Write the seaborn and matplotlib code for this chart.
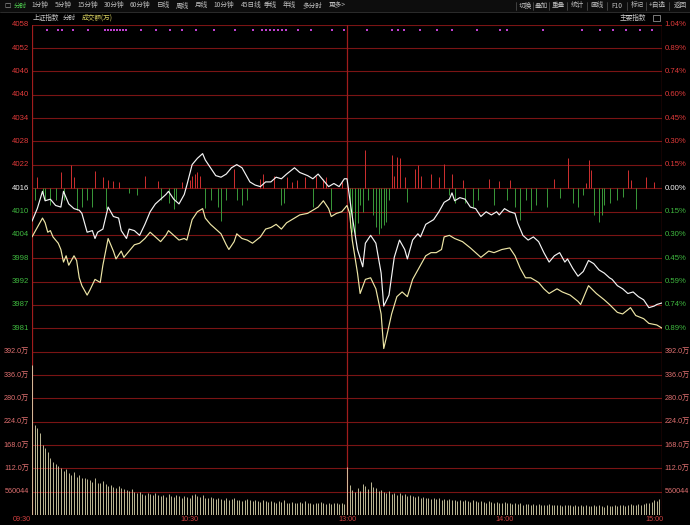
import numpy as np
import pandas as pd
import matplotlib
matplotlib.use("Agg")
import matplotlib.pyplot as plt
from matplotlib.patches import Rectangle
import seaborn as sns

sns.set_style("dark")
plt.rcParams['font.family'] = ['Liberation Sans', 'Noto Sans CJK SC', 'DejaVu Sans']

# ---------------- data ----------------
STEP = 0.1486  # percent per grid step

white_min = [0,2,4,5,7,9,11,12,14,16,18,19,21,23,24,25,27,29,31,33,34,36,37,39,41,43,45,47,49,51,52,54,56,58,59,61,63,65,66,68,70,72,74,76,78,80,83,85,87,89,91,93,95,97,100,102,105,107,109,111,113,115,117,119,120,
             122,124,126,127,129,131,133,134,136,138,140,142,143,145,147,148,150,153,155,157,159,160,161,163,165,167,169,171,173,175,177,178,180,182,184,185,187,189,191,193,195,197,199,201,203,204,206,208,210,212,214,216,218,220,221,223,225,227,229,231,233,235,237,238,240]
white_pct = [-0.21,-0.13,-0.02,-0.08,-0.07,-0.11,-0.12,-0.02,-0.10,-0.13,-0.14,-0.16,-0.28,-0.27,-0.32,-0.28,-0.26,-0.12,-0.18,-0.19,-0.27,-0.32,-0.26,-0.27,-0.30,-0.23,-0.15,-0.10,-0.07,-0.04,-0.02,-0.07,-0.10,-0.04,0.02,0.15,0.19,0.22,0.18,0.13,0.08,0.07,0.09,0.13,0.15,0.13,0.04,0.02,0.01,0.04,0.04,0.07,0.06,0.09,0.13,0.10,0.08,0.06,0.09,0.05,0.01,0.03,0.01,0.06,0.06,
             -0.18,-0.39,-0.50,-0.35,-0.30,-0.35,-0.54,-0.75,-0.68,-0.44,-0.33,-0.39,-0.45,-0.33,-0.29,-0.31,-0.23,-0.20,-0.15,-0.09,-0.07,-0.03,-0.08,-0.06,-0.07,-0.12,-0.13,-0.18,-0.15,-0.17,-0.15,-0.17,-0.13,-0.15,-0.16,-0.22,-0.30,-0.33,-0.31,-0.34,-0.41,-0.47,-0.43,-0.41,-0.47,-0.45,-0.51,-0.56,-0.53,-0.46,-0.48,-0.52,-0.54,-0.57,-0.58,-0.62,-0.64,-0.67,-0.66,-0.69,-0.71,-0.76,-0.75,-0.74,-0.73]

yellow_min = [0,2,4,5,6,7,8,10,11,12,13,14,16,17,18,19,21,22,24,26,27,29,30,31,32,34,35,37,39,41,43,45,47,49,51,52,54,56,58,59,61,63,65,66,68,70,72,74,75,77,78,80,82,84,87,89,91,93,95,97,100,102,105,107,109,111,113,114,116,118,120,
              121,122,124,125,127,129,131,133,134,135,137,139,141,143,145,148,150,152,154,156,157,159,161,164,167,169,171,174,176,179,182,184,186,188,190,193,195,197,200,202,205,208,209,212,215,218,220,223,225,228,230,233,235,238,240]
yellow_pct = [-0.31,-0.25,-0.19,-0.22,-0.28,-0.27,-0.31,-0.35,-0.39,-0.47,-0.43,-0.49,-0.43,-0.46,-0.57,-0.62,-0.68,-0.65,-0.58,-0.60,-0.49,-0.32,-0.36,-0.40,-0.45,-0.40,-0.44,-0.40,-0.36,-0.35,-0.32,-0.28,-0.31,-0.34,-0.30,-0.27,-0.30,-0.33,-0.32,-0.33,-0.20,-0.15,-0.13,-0.19,-0.23,-0.26,-0.29,-0.36,-0.39,-0.34,-0.29,-0.32,-0.33,-0.35,-0.31,-0.26,-0.25,-0.23,-0.26,-0.22,-0.19,-0.17,-0.16,-0.14,-0.12,-0.08,-0.13,-0.18,-0.16,-0.15,-0.11,
              -0.16,-0.33,-0.54,-0.67,-0.58,-0.57,-0.64,-0.80,-1.02,-0.95,-0.80,-0.69,-0.66,-0.69,-0.58,-0.49,-0.43,-0.41,-0.41,-0.39,-0.31,-0.30,-0.32,-0.34,-0.38,-0.41,-0.44,-0.40,-0.41,-0.39,-0.38,-0.43,-0.51,-0.57,-0.57,-0.60,-0.64,-0.67,-0.64,-0.66,-0.68,-0.72,-0.74,-0.62,-0.67,-0.71,-0.74,-0.79,-0.80,-0.76,-0.81,-0.83,-0.86,-0.87,-0.89]

red_min = [2,11,15,16,24,27,29,31,33,43,48,57,60,61,62,63,64,77,87,88,92,97,99,101,104,108,111,112,118,
           127,137,138,139,140,142,146,147,148,152,155,157,160,164,174,178,182,199,204,211,212,213,227,228,234,237]
red_pct = [0.07,0.10,0.15,0.07,0.11,0.07,0.05,0.045,0.04,0.08,0.045,0.04,0.05,0.08,0.09,0.10,0.08,0.125,0.06,0.09,0.08,0.07,0.04,0.05,0.07,0.08,0.06,0.07,0.04,
           0.24,0.21,0.08,0.20,0.19,0.07,0.125,0.145,0.08,0.09,0.07,0.155,0.09,0.05,0.06,0.045,0.05,0.06,0.19,0.03,0.18,0.115,0.115,0.05,0.07,0.04]

green_min = [1,4,5,7,9,12,17,19,21,23,28,37,40,49,52,54,55,66,68,71,72,74,78,80,82,95,96,107,114,
             121,122,123,124,125,126,128,130,131,132,133,134,135,136,143,159,161,165,168,170,176,181,184,186,188,190,192,196,201,206,208,210,214,216,217,218,220,223,225,230,240]
green_pct = [-0.076,-0.045,-0.076,-0.108,-0.076,-0.076,-0.14,-0.12,-0.076,-0.12,-0.13,-0.03,-0.045,-0.076,-0.095,-0.13,-0.076,-0.127,-0.076,-0.12,-0.21,-0.076,-0.076,-0.108,-0.076,-0.108,-0.095,-0.12,-0.14,
             -0.256,-0.277,-0.29,-0.22,-0.108,-0.15,-0.076,-0.17,-0.246,-0.29,-0.256,-0.235,-0.214,-0.076,-0.087,-0.045,-0.095,-0.097,-0.12,-0.076,-0.108,-0.076,-0.12,-0.20,-0.076,-0.14,-0.108,-0.12,-0.063,-0.097,-0.12,-0.045,-0.17,-0.214,-0.17,-0.108,-0.095,-0.076,-0.057,-0.13,-0.13]

volume = [359,215,208,196,168,160,151,136,127,122,
          118,112,105,110,100,96,104,92,95,88,90,
          86,84,80,88,78,76,82,74,70,72,68,66,70,64,62,
          60,58,62,55,52,56,50,48,54,50,47,52,49,45,48,44,50,46,43,47,45,42,46,44,41,
          48,50,45,43,47,42,40,44,41,38,42,39,37,40,36,38,41,35,37,34,36,39,35,33,36,34,32,35,33,31,
          34,32,30,33,31,35,30,29,32,30,28,31,29,33,30,28,27,30,29,31,28,26,29,27,30,28,26,29,27,
          115,
          72,60,55,66,58,75,70,62,80,68,64,57,60,55,52,58,50,54,48,52,47,50,45,48,46,43,45,42,44,40,
          42,39,41,38,40,37,39,36,38,35,37,34,36,33,35,34,32,35,33,31,34,32,30,33,31,29,32,30,28,31,
          30,28,27,29,26,28,25,27,26,24,27,25,26,24,25,23,26,24,25,23,24,22,25,23,24,22,23,21,24,22,23,21,22,24,21,23,22,20,23,21,
          22,24,21,23,25,22,24,26,23,25,27,24,26,30,28,32,35,33,38,45]

dot_x_px = [47,58,62,73,88,105,108,111,114,117,120,123,126,141,156,170,182,196,214,235,253,262,266,270,274,278,282,286,298,311,332,344,
            367,392,398,404,420,437,452,477,500,507,543,582,600,613,626,640,652]

left_labels = ["3981","3987","3992","3998","4004","4010","4016","4022","4028","4034","4040","4046","4052","4058"]
right_labels = ["0.89%","0.74%","0.59%","0.45%","0.30%","0.15%","0.00%","0.15%","0.30%","0.45%","0.60%","0.74%","0.89%","1.04%"]
vol_ticks = [56,112,168,224,280,336,392]
vol_labels = ["560044","112.0万","168.0万","224.0万","280.0万","336.0万","392.0万"]
time_labels = ["09:30","10:30","13:00","14:00","15:00"]
time_pos = [0,60,120,180,240]

menu_left = ["分时","1分钟","5分钟","15分钟","30分钟","60分钟","日线","周线","月线","10分钟","45日线","季线","年线","多分时","更多>"]
menu_right = ["切换","叠加","重叠","统计","画线","F10","标记","+自选","返回"]

# ---------------- figure ----------------
W, H = 690, 525
fig = plt.figure(figsize=(6.9, 5.25), dpi=100, facecolor='black')

def fx(px):
    return px / W
def fy(py):
    return 1 - py / H

GRID = '#7a1414'
BORDER = '#a01c1c'
RED = '#e03a3a'
GREEN = '#3fb83f'
WHITE_L = '#f4f4f4'
YELLOW_L = '#eee6a6'
VOLC = '#ddd6ae'
CJK = ['Noto Sans CJK SC', 'DejaVu Sans']

# top menu bar
fig.patches.append(Rectangle((0, fy(11)), 1, 11 / H, transform=fig.transFigure, color='#0d0d0d', zorder=0))
fig.text(fx(4), fy(5.5), "☐", color='#aaaaaa', fontsize=5, va='center', ha='left', family=['DejaVu Sans'])
xs_left = [20, 40, 63, 88, 114, 140, 163, 182, 201, 224, 251, 270, 289, 312, 337]
for i, (t, x) in enumerate(zip(menu_left, xs_left)):
    fig.text(fx(x), fy(5.5), t, color=('#4fd04f' if i == 0 else '#bdbdbd'), fontsize=4.8, va='center', ha='center', family=CJK)
xs_right = [525, 541, 558, 577, 597, 617, 637, 657, 680]
for t, x in zip(menu_right, xs_right):
    fig.text(fx(x), fy(5.5), t, color='#bdbdbd', fontsize=4.8, va='center', ha='center', family=CJK)
for x in [516, 533, 549, 567, 587, 607, 627, 646, 669]:
    fig.lines.append(plt.Line2D([fx(x), fx(x)], [fy(2), fy(10)], transform=fig.transFigure, color='#555555', lw=0.5))
fig.lines.append(plt.Line2D([0, 1], [fy(11.5), fy(11.5)], transform=fig.transFigure, color='#333333', lw=0.6))

# header row
fig.text(fx(33), fy(18), "上证指数", color='#c8c8c8', fontsize=4.8, va='center', ha='left', family=CJK)
fig.text(fx(63), fy(18), "分时", color='#c8c8c8', fontsize=4.8, va='center', ha='left', family=CJK)
fig.text(fx(82), fy(18), "成交额(万)", color='#d8d060', fontsize=4.8, va='center', ha='left', family=CJK)
fig.text(fx(620), fy(18), "主要指数", color='#c8c8c8', fontsize=4.8, va='center', ha='left', family=CJK)
fig.patches.append(Rectangle((fx(653), fy(21)), 7 / W, 6 / H, transform=fig.transFigure, fill=False, ec='#aaaaaa', lw=0.5))

# price panel
top, bot = 24.7, 351.7
ax = fig.add_axes([fx(32), fy(bot), fx(662) - fx(32), (bot - top) / H])
ax.set_facecolor('black')
ax.set_xlim(0, 240)
ax.set_ylim(-7 * STEP, 7 * STEP)
for k in range(-7, 8):
    ax.axhline(k * STEP, color=GRID, lw=0.8, zorder=1)
for xv in [0, 120, 240]:
    ax.axvline(xv, color=BORDER, lw=0.9, zorder=1)

ax.vlines(red_min, 0, red_pct, colors='#d03030', lw=0.7, zorder=2)
ax.vlines(green_min, 0, green_pct, colors='#3a9a3a', lw=0.7, zorder=2)

df_w = pd.DataFrame({"m": white_min, "v": white_pct})
df_y = pd.DataFrame({"m": yellow_min, "v": yellow_pct})
sns.lineplot(data=df_w, x="m", y="v", ax=ax, color=WHITE_L, lw=0.85, estimator=None, zorder=4)
sns.lineplot(data=df_y, x="m", y="v", ax=ax, color=YELLOW_L, lw=0.85, estimator=None, zorder=3)

dot_m = [(x - 32) / 2.625 for x in dot_x_px]
ax.scatter(dot_m, [6.78 * STEP] * len(dot_m), s=2.2, marker='s', color='#c040d0', lw=0, zorder=5)

ax.set_xticks([]); ax.set_yticks([])
ax.set_xlabel(""); ax.set_ylabel("")
for sp in ax.spines.values():
    sp.set_visible(False)

yt = ax.get_yaxis_transform()
for i, ll in enumerate(left_labels):
    k = i - 6
    c = RED if k > 0 else (WHITE_L if k == 0 else GREEN)
    ax.text(-0.004, k * STEP, ll, transform=yt, ha='right', va='center', color=c, fontsize=5.6, clip_on=False)
for i, rl in enumerate(right_labels):
    k = i - 6
    c = RED if k > 0 else (WHITE_L if k == 0 else GREEN)
    ax.text(1.004, k * STEP, rl, transform=yt, ha='left', va='center', color=c, fontsize=5.6, clip_on=False)

# volume panel
vtop, vbot = 351.7, 515
vx = fig.add_axes([fx(32), fy(vbot), fx(662) - fx(32), (vbot - vtop) / H])
vx.set_facecolor('black')
vx.set_xlim(0, 240)
vx.set_ylim(0, 392)
for t in vol_ticks + [0]:
    vx.axhline(t, color=GRID, lw=0.8, zorder=1)
for xv in [0, 120, 240]:
    vx.axvline(xv, color=BORDER, lw=0.9, zorder=1)
vx.vlines(np.arange(len(volume)), 0, volume, colors=VOLC, lw=0.6, zorder=2)
vx.set_xticks([]); vx.set_yticks([])
for sp in vx.spines.values():
    sp.set_visible(False)
vyt = vx.get_yaxis_transform()
for t, lab in zip(vol_ticks, vol_labels):
    vx.text(-0.004, t, lab, transform=vyt, ha='right', va='center', color='#e07070', fontsize=5.2, clip_on=False, family=['Liberation Sans', 'Noto Sans CJK SC'])
    vx.text(1.004, t, lab, transform=vyt, ha='left', va='center', color='#e07070', fontsize=5.2, clip_on=False, family=['Liberation Sans', 'Noto Sans CJK SC'])

# time axis labels (kept fully inside the figure)
for lab, p in zip(time_labels, time_pos):
    xoff = 0
    if p == 0:
        xoff = -4
    if p == 240:
        xoff = -3
    xpx = 32 + (p + xoff) * 2.625
    fig.text(fx(xpx), fy(519.5), lab, ha='center', va='center', color='#d04040', fontsize=5.2)

fig.savefig("out.png", dpi=100, facecolor='black')
